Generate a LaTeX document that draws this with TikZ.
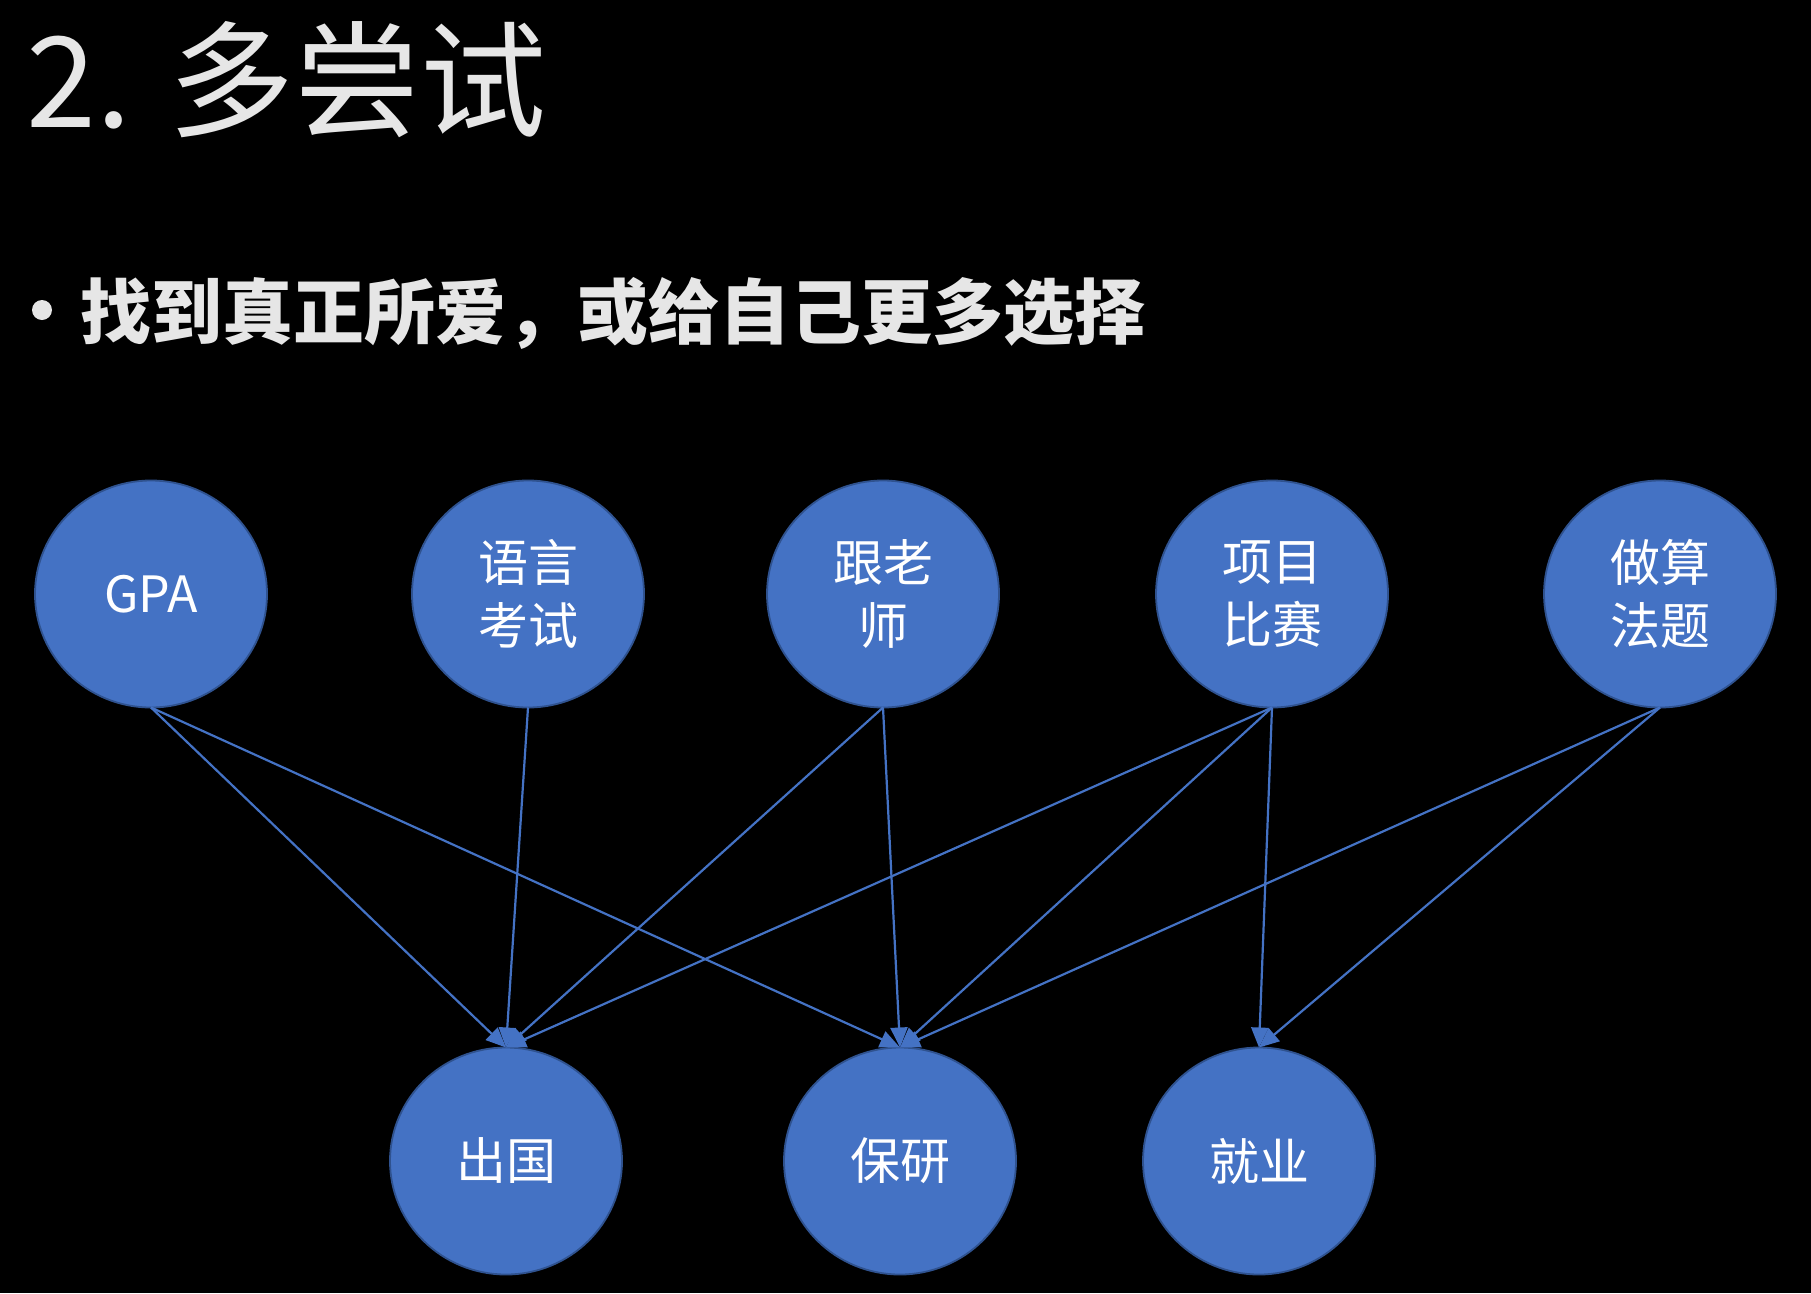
\documentclass[tikz,border=0pt]{standalone}
\usepackage{fontspec}
\setmainfont{Noto Sans CJK SC}
\usetikzlibrary{shapes.geometric,arrows.meta}
\definecolor{nodeblue}{HTML}{4472C4}
\definecolor{nodeborder}{HTML}{2F528F}
\definecolor{titlegray}{HTML}{E6E6E6}
\tikzset{
  bubble/.style={ellipse, fill=nodeblue, draw=nodeborder, line width=1.8pt,
    minimum width=232pt, minimum height=227pt, inner sep=0pt, outer sep=0pt,
    text=white, align=center, font=\fontsize{50}{63}\selectfont},
  link/.style={draw=nodeblue, line width=2.2pt, -{Triangle[length=20pt,width=17pt]}}
}
\begin{document}
\begin{tikzpicture}[x=1pt,y=-1pt]
\fill[black] (0,0) rectangle (1811,1293);
\useasboundingbox (0,0) rectangle (1811,1293);
% title
\node[anchor=base west, inner sep=0pt, text=titlegray, font=\fontsize{126}{126}\selectfont] (title) at (26,127) {2. 多尝试};
% bullet
\fill[titlegray] (42,310) circle (10);
\node[anchor=base west, inner sep=0pt, text=titlegray, font=\bfseries\fontsize{71}{71}\selectfont] (sub) at (80,338) {找到真正所爱，或给自己更多选择};
% top nodes
\node[bubble] (gpa) at (151,594) {GPA};
\node[bubble] (lang) at (528,594) {语言\\考试};
\node[bubble] (prof) at (883,594) {跟老\\师};
\node[bubble] (proj) at (1272,594) {项目\\比赛};
\node[bubble] (algo) at (1660,594) {做算\\法题};
% bottom nodes
\node[bubble] (abroad) at (506,1161) {出国};
\node[bubble] (grad) at (900,1161) {保研};
\node[bubble] (job) at (1259,1161) {就业};
% links
\draw[link] (gpa.south) -- (abroad.north);
\draw[link] (gpa.south) -- (grad.north);
\draw[link] (lang.south) -- (abroad.north);
\draw[link] (prof.south) -- (abroad.north);
\draw[link] (prof.south) -- (grad.north);
\draw[link] (proj.south) -- (abroad.north);
\draw[link] (proj.south) -- (grad.north);
\draw[link] (proj.south) -- (job.north);
\draw[link] (algo.south) -- (grad.north);
\draw[link] (algo.south) -- (job.north);
\end{tikzpicture}
\end{document}
